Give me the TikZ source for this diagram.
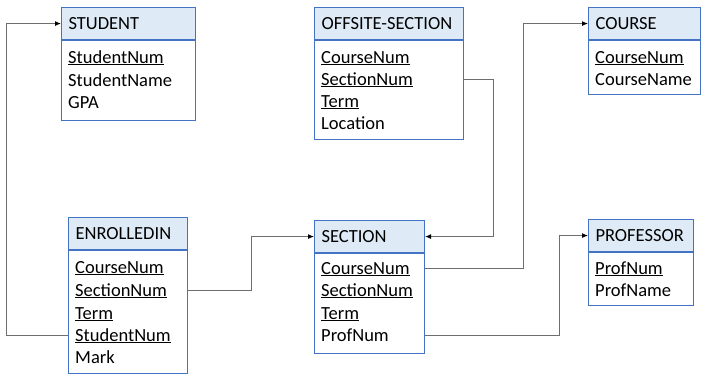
\documentclass[tikz,border=0pt]{standalone}
\usepackage{fontspec}
\setmainfont{Carlito}
\usetikzlibrary{arrows.meta}

\definecolor{boxBlue}{RGB}{68,114,196}
\definecolor{headFill}{RGB}{222,235,247}
\definecolor{linkGray}{RGB}{110,110,110}

\begin{document}
\begin{tikzpicture}[x=1pt,y=-1pt,
        headNode/.style = {anchor=north west,draw=boxBlue,fill=headFill,line width=1.1pt,minimum height=32pt,inner xsep=7pt,align=left,font=\fontsize{18.5}{22}\selectfont},
        bodyNode/.style = {anchor=north,draw=boxBlue,fill=white,line width=1.1pt},
        fieldNode/.style = {anchor=west,inner sep=0pt,text height=16pt,text depth=4pt,font=\fontsize{18.5}{22}\selectfont},
        link/.style = {draw=linkGray,line width=0.9pt},
        linkTo/.style = {link,-{Latex[length=6pt,width=5pt,color=black]}}
        ]
        \useasboundingbox (0,0) rectangle (702,373);
        % tables
        \node[headNode,text width=120pt] (student) at (61,7) {STUDENT};
        \node[bodyNode,minimum width=134pt,minimum height=80pt] (student-b) at (student.south) {};
        \node[fieldNode] (stu-num) at (68,57) {\underline{StudentNum}};
        \node[fieldNode] (stu-name) at (68,80) {StudentName};
        \node[fieldNode] (stu-gpa) at (68,102) {GPA};

        \node[headNode,text width=135pt] (offsite) at (314,7) {OFFSITE-SECTION};
        \node[bodyNode,minimum width=149pt,minimum height=99pt] (offsite-b) at (offsite.south) {};
        \node[fieldNode] (off-crs) at (321,57) {\underline{CourseNum}};
        \node[fieldNode] (off-sec) at (321,79) {\underline{SectionNum}};
        \node[fieldNode] (off-term) at (321,101) {\underline{Term}};
        \node[fieldNode] (off-loc) at (321,123) {Location};

        \node[headNode,text width=98pt] (course) at (588,7) {COURSE};
        \node[bodyNode,minimum width=112pt,minimum height=54pt] (course-b) at (course.south) {};
        \node[fieldNode] (crs-num) at (595,57) {\underline{CourseNum}};
        \node[fieldNode] (crs-name) at (595,79) {CourseName};

        \node[headNode,text width=105pt] (enr) at (68,217) {ENROLLEDIN};
        \node[bodyNode,minimum width=119pt,minimum height=123pt] (enr-b) at (enr.south) {};
        \node[fieldNode] (enr-crs) at (75,267) {\underline{CourseNum}};
        \node[fieldNode] (enr-sec) at (75,290) {\underline{SectionNum}};
        \node[fieldNode] (enr-term) at (75,313) {\underline{Term}};
        \node[fieldNode] (enr-stu) at (75,335) {\underline{StudentNum}};
        \node[fieldNode] (enr-mark) at (75,357) {Mark};

        \node[headNode,text width=96pt] (section) at (314,220) {SECTION};
        \node[bodyNode,minimum width=110pt,minimum height=100pt] (section-b) at (section.south) {};
        \node[fieldNode] (sec-crs) at (321,268) {\underline{CourseNum}};
        \node[fieldNode] (sec-sec) at (321,290) {\underline{SectionNum}};
        \node[fieldNode] (sec-term) at (321,313) {\underline{Term}};
        \node[fieldNode] (sec-prof) at (321,335) {ProfNum};

        \node[headNode,text width=91pt] (prof) at (588,219) {PROFESSOR};
        \node[bodyNode,minimum width=105pt,minimum height=53pt] (prof-b) at (prof.south) {};
        \node[fieldNode] (prof-num) at (595,268) {\underline{ProfNum}};
        \node[fieldNode] (prof-name) at (595,290) {ProfName};

        % bends of the connectors
        \coordinate (bendStu) at (6,0);
        \coordinate (bendEnr) at (251,0);
        \coordinate (bendOff) at (493,0);
        \coordinate (bendCrs) at (523,0);
        \coordinate (bendProf) at (559,0);

        % references
        \draw[linkTo] (enr-stu -| enr-b.west) -- (enr-stu -| bendStu) |- (student.west);
        \draw[linkTo] (enr-sec -| enr-b.east) -- (enr-sec -| bendEnr) |- (section.west);
        \draw[linkTo] (off-sec -| offsite-b.east) -- (off-sec -| bendOff) |- (section.east);
        \draw[linkTo] (sec-crs -| section-b.east) -- (sec-crs -| bendCrs) |- (course.west);
        \draw[linkTo] (sec-prof -| section-b.east) -- (sec-prof -| bendProf) |- (prof.west);
\end{tikzpicture}
\end{document}
